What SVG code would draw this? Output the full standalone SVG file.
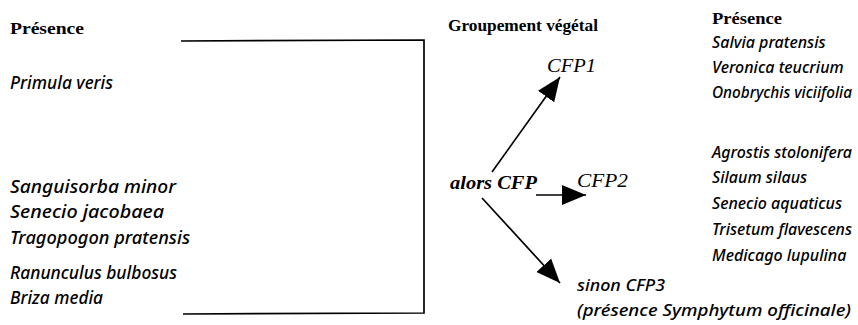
<svg xmlns="http://www.w3.org/2000/svg" width="858" height="325" viewBox="0 0 858 325">
<defs>
<style>
.h{font-family:"Liberation Serif",serif;font-weight:bold;font-size:17px;fill:#000}
.sp{font-family:"Noto Sans",sans-serif;font-style:italic;font-weight:500;font-size:17.5px;fill:#000}
.sr{font-family:"Noto Sans",sans-serif;font-style:italic;font-weight:500;font-size:16px;fill:#000}
.cf{font-family:"Liberation Serif",serif;font-style:italic;font-size:18px;fill:#000}
.ln{stroke:#000;stroke-width:1.7;fill:none}
</style>
<marker id="ah" markerUnits="userSpaceOnUse" markerWidth="26" markerHeight="22" refX="24" refY="10" orient="auto">
<path d="M0,0 L24,10 L0,20 Z" fill="#000"/>
</marker>
</defs>
<rect width="858" height="325" fill="#fff"/>
<g id="left-list">
<text class="h" x="10" y="34" textLength="74" lengthAdjust="spacingAndGlyphs">Présence</text>
<text class="sp" x="10" y="89" textLength="103" lengthAdjust="spacingAndGlyphs">Primula veris</text>
<text class="sp" x="10" y="193" textLength="166" lengthAdjust="spacingAndGlyphs">Sanguisorba minor</text>
<text class="sp" x="10" y="218" textLength="154" lengthAdjust="spacingAndGlyphs">Senecio jacobaea</text>
<text class="sp" x="10" y="244" textLength="180" lengthAdjust="spacingAndGlyphs">Tragopogon pratensis</text>
<text class="sp" x="10" y="279" textLength="167" lengthAdjust="spacingAndGlyphs">Ranunculus bulbosus</text>
<text class="sp" x="10" y="304" textLength="93" lengthAdjust="spacingAndGlyphs">Briza media</text>
</g>
<g id="bracket">
<path class="ln" d="M181,41 L424,40 L424,313 L183,314"/>
</g>
<g id="header-groupement">
<text class="h" x="448" y="31" textLength="150" lengthAdjust="spacingAndGlyphs">Groupement végétal</text>
</g>
<g id="source-alors">
<text class="cf" x="450" y="189" font-weight="bold" textLength="87" lengthAdjust="spacingAndGlyphs">alors CFP</text>
</g>
<g id="cfp1">
<text class="cf" x="547" y="72" textLength="49" lengthAdjust="spacingAndGlyphs">CFP1</text>
</g>
<g id="cfp2">
<text class="cf" x="577" y="187" textLength="51" lengthAdjust="spacingAndGlyphs">CFP2</text>
</g>
<g id="cfp3">
<text class="sr" x="577" y="291" textLength="88" lengthAdjust="spacingAndGlyphs">sinon CFP3</text>
<text class="sr" x="577" y="316" textLength="274" lengthAdjust="spacingAndGlyphs">(présence Symphytum officinale)</text>
</g>
<g id="right-list">
<text class="h" x="712" y="24" textLength="70" lengthAdjust="spacingAndGlyphs">Présence</text>
<text class="sr" x="712" y="48">Salvia pratensis</text>
<text class="sr" x="712" y="73">Veronica teucrium</text>
<text class="sr" x="712" y="98" textLength="140" lengthAdjust="spacingAndGlyphs">Onobrychis viciifolia</text>
<text class="sr" x="712" y="158" textLength="140" lengthAdjust="spacingAndGlyphs">Agrostis stolonifera</text>
<text class="sr" x="712" y="183">Silaum silaus</text>
<text class="sr" x="712" y="209">Senecio aquaticus</text>
<text class="sr" x="712" y="235" textLength="140" lengthAdjust="spacingAndGlyphs">Trisetum flavescens</text>
<text class="sr" x="712" y="261">Medicago lupulina</text>
</g>
<g id="connectors">
<line class="ln" x1="492" y1="172" x2="560" y2="77" marker-end="url(#ah)"/>
<line class="ln" x1="536" y1="195" x2="586" y2="195" marker-end="url(#ah)"/>
<line class="ln" x1="482" y1="198" x2="560" y2="283" marker-end="url(#ah)"/>
</g>
</svg>
